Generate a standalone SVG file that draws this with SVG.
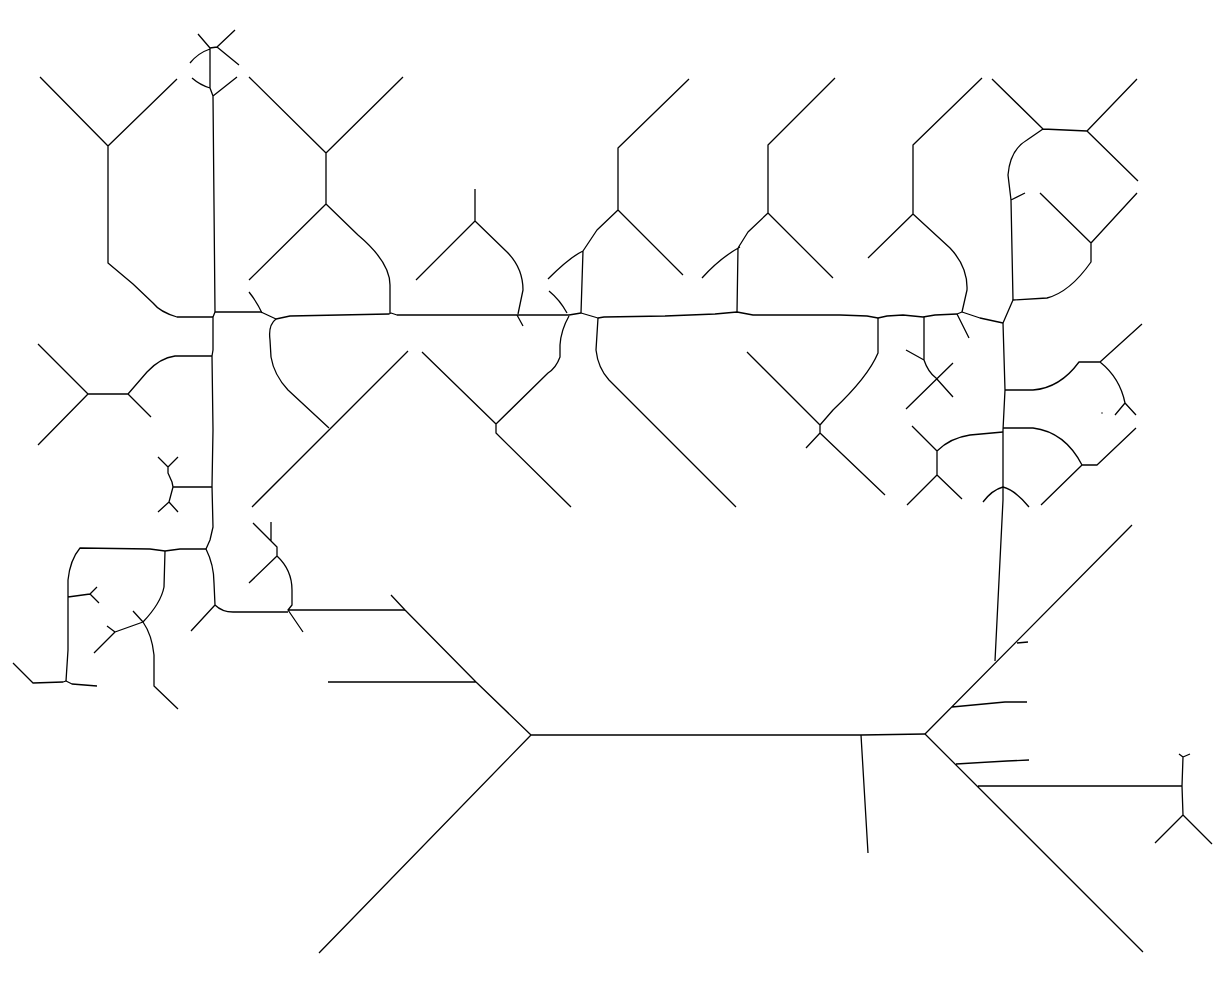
<svg xmlns="http://www.w3.org/2000/svg" width="1226" height="982" viewBox="0 0 1226 982">
<style>
path{fill:none;stroke:#000;stroke-width:1.3;stroke-linejoin:round;stroke-linecap:butt}
</style>
<rect width="1226" height="982" fill="#fff"/>
<g id="connectors">
<g id="top-left">
<path d="M40,77 L108,146 L177,79 M108,146 L108,263 L133,284 L153,303 Q160,312 177,317 L213,317"/>
<path d="M198,34 L210,48 L217,47 L235,30 M217,47 L239,65 M210,49 Q198,53 190,63 M210,48 L210,88 L213,96 M192,78 Q200,85 210,88 M237,77 L213,96 L215,312"/>
<path d="M215,312 L213,317 L213,350 L212,356 L213,430 L212,486 L213,527 L210,540 L206,549"/>
<path d="M212,356 L175,356 Q160,358 147,372 L128,394 M38,344 L88,394 L38,445 M88,394 L128,394 L151,417"/>
<path d="M212,487 L173,487 L172,482 L168,473 L168,467 M158,457 L168,467 L178,457 M173,487 L169,502 M158,512 L169,502 L178,512"/>
</g>
<g id="left-lower">
<path d="M206,549 L180,549 L165,551 L150,549 L80,548 Q70,560 68,580 L68,597 L68,650 L66,681 M68,597 L90,594 M97,587 L90,594 L99,603"/>
<path d="M13,663 L33,683 L63,682 L66,681 L72,684 L97,686"/>
<path d="M165,551 L164,587 Q161,603 143,622 M133,611 L143,622 Q152,635 154,655 L154,686 L178,709 M143,622 L115,632 M107,626 L115,632 L94,653"/>
<path d="M206,549 Q214,565 214,583 L215,605 L191,631 M215,605 Q222,612 233,612 L288,612"/>
<path d="M271,522 L271,541 M253,523 L277,547 L277,556 L249,583 M277,556 Q292,570 292,590 L292,605 L288,610 L405,610 M288,610 L303,632"/>
</g>
<g id="bottom">
<path d="M391,595 L405,610 L476,682 L531,735 L319,953 M328,682 L476,682 M531,735 L861,735 L925,734 M861,735 L868,853"/>
<path d="M925,734 L1132,525 M1003,500 L995,661 M1017,643 L1028,642 M952,707 L1005,702 L1027,702 M925,734 L1143,952 M956,764 L1007,761 L1029,760 M978,786 L1182,786"/>
<path d="M1179,754 L1183,757 L1190,754 M1183,757 L1182,786 L1183,815 L1155,843 M1183,815 L1212,844"/>
</g>
<g id="main-horizontal">
<path d="M215,312 L261,312 L276,319 L290,316 L389,314 L391,313 L397,315 L517,315 L569,315 L581,313 L598,318 L604,317 L665,316 L715,314 L737,312 L753,315 L840,315 L867,316 L878,318 L887,316 L903,315 L923,317 L935,315 L957,314 L962,312 L980,318 L1003,323"/>
<path d="M249,292 Q257,302 262,313"/>
<path d="M276,319 Q268,325 270,340 L271,357 Q274,375 288,390 L329,428 M408,351 L252,507"/>
<path d="M249,77 L326,153 L403,77 M326,153 L326,204 L249,280 M326,204 L358,235 Q390,262 390,285 L390,313"/>
<path d="M416,280 L475,221 L475,189 M475,221 L507,252 Q523,268 523,290 L518,314 M517,315 L523,326"/>
<path d="M549,291 Q560,300 567,313 M569,316 Q561,330 560,345 L560,357 Q556,368 548,373 L496,424 M422,352 L496,424 L496,433 L571,507"/>
<path d="M581,313 L583,251 Q570,257 548,279 M583,251 L597,230 L618,210 L618,148 L689,79 M618,210 L683,275"/>
<path d="M598,318 L596,350 Q598,368 609,380 L736,507"/>
<path d="M737,312 L738,248 M740,247 Q720,258 702,278 M738,248 L748,232 L768,213 L768,145 L835,78 M768,213 L833,278"/>
<path d="M747,352 L820,425 L820,433 L885,495 M820,433 L806,448 M820,425 L833,410 Q868,377 878,353 L878,318"/>
<path d="M913,214 L913,145 L982,78 M868,258 L913,214 L950,248 Q968,267 967,290 L962,312 M957,314 L969,338"/>
<path d="M924,317 L924,360 L906,350 M924,360 Q928,372 936,378 L953,397 M953,363 L906,409"/>
</g>
<g id="right">
<path d="M1003,323 L1013,300 L1047,298 Q1070,292 1091,262 L1091,243 M1040,193 L1091,243 L1137,193"/>
<path d="M1013,300 L1011,200 L1008,175 Q1010,150 1027,140 L1043,129 L1087,131 M1011,200 L1025,193 M992,79 L1043,129 M1137,79 L1087,131 L1138,181"/>
<path d="M1003,323 L1005,390 L1003,430 L1003,500"/>
<path d="M1005,390 L1033,390 Q1060,388 1079,362 L1100,362 L1142,324 M1100,362 Q1120,378 1125,403 L1115,415 M1125,403 L1136,415 M1101.5,413 L1102.5,413"/>
<path d="M1003,428 L1033,428 Q1065,432 1082,465 L1097,465 L1136,428 M1082,465 L1041,505"/>
<path d="M1003,432 L970,435 Q950,438 937,451 L912,426 M937,451 L937,475 L907,505 M937,475 L962,499"/>
<path d="M983,502 Q992,490 1003,487 Q1015,490 1029,507"/>
</g>
</g>
</svg>
